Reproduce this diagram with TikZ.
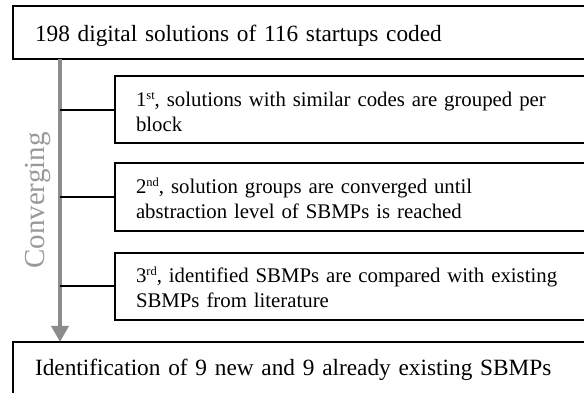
\documentclass[tikz,border=0pt]{standalone}
\usepackage{fontspec}
\setmainfont{Liberation Serif}
\usepackage{tikz}
\usetikzlibrary{arrows.meta,positioning}

\newcommand{\ordsup}[1]{\raisebox{7pt}{\fontsize{12.5}{12.5}\selectfont #1}}

\begin{document}
\begin{tikzpicture}[
    x=1pt, y=-1pt,
    mainbox/.style={draw=black, line width=2pt, outer sep=0pt, inner xsep=22pt, inner ysep=0pt, text width=563pt, align=left, font=\fontsize{23.3}{28}\selectfont, text depth=0pt},
    stepbox/.style={draw=black, line width=2pt, outer sep=0pt, inner xsep=21pt, inner ysep=0pt, text width=463pt, minimum height=67.5pt, align=left, font=\fontsize{20.8}{25}\selectfont, text height=10pt, text depth=17pt},
    link/.style={line width=2pt, draw=black},
    flow/.style={-{Triangle[width=17pt,length=16pt]}, line width=4pt, draw=gray!90}
]
\useasboundingbox (0,0) rectangle (584,393);
\clip (0,0) rectangle (584,393);

% ===== INPUT AND OUTPUT =====
\node[mainbox, anchor=north west, minimum height=53.3pt, text height=18.1pt] (coded) at (13,6) {198 digital solutions of 116 startups coded};

% ===== STEPS =====
\node[stepbox, below right=16.7pt and 102pt of coded.south west] (group) {1\ordsup{st}, solutions with similar codes are grouped per\\block};
\node[stepbox, below right=20pt and 0pt of group.south west] (merge) {2\ordsup{nd}, solution groups are converged until\\abstraction level of SBMPs is reached};
\node[stepbox, below right=21.7pt and 0pt of merge.south west] (compare) {3\ordsup{rd}, identified SBMPs are compared with existing\\SBMPs from literature};

\node[mainbox, below left=21.7pt and 102pt of compare.south west, anchor=north west, minimum height=60pt, text height=6.6pt] (result) {Identification of 9 new and 9 already existing SBMPs};

% ===== CONVERGING FLOW =====
\coordinate[right=47pt of coded.south west] (stem);
\draw[flow] (stem) -- node[midway, rotate=90, anchor=south, inner sep=7pt, text=black!40, font=\fontsize{29}{29}\selectfont] {Converging} (stem |- result.north);

\draw[link] (group.west) -- (group.west -| stem);
\draw[link] (merge.west) -- (merge.west -| stem);
\draw[link] (compare.west) -- (compare.west -| stem);

\end{tikzpicture}
\end{document}
